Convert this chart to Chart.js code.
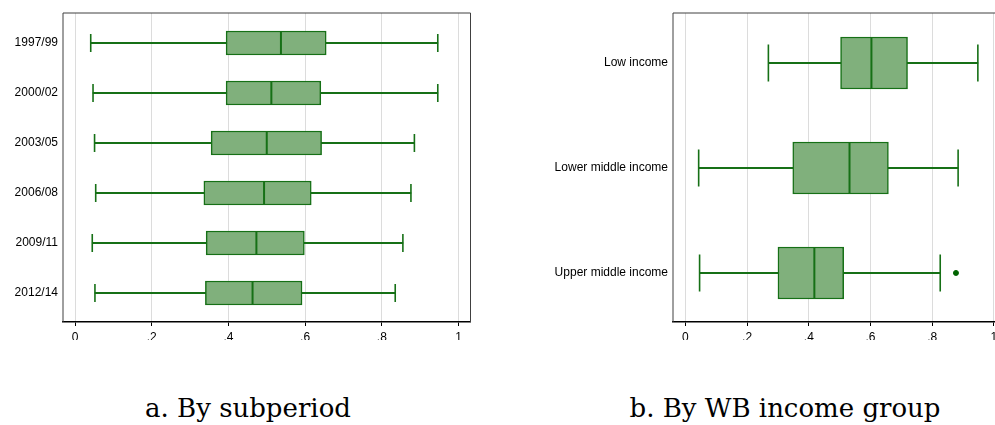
<!DOCTYPE html>
<html>
<head>
<meta charset="utf-8">
<script src="https://cdn.jsdelivr.net/npm/chart.js@4.4.0/dist/chart.umd.min.js"></script>
<style>
    html, body {
        margin: 0;
        padding: 0;
        background: #fff;
        width: 995px;
        height: 425px;
        overflow: hidden;
        position: relative;
    }
    .panel {
        position: absolute;
        top: 0;
        height: 345px;
    }
    .panel canvas {
        display: block;
    }
    .caption {
        position: absolute;
        top: 393px;
        font-family: "DejaVu Serif", "Liberation Serif", serif;
        font-size: 26px;
        line-height: 30px;
        color: #000;
        white-space: nowrap;
        transform: translateX(-50%);
    }
</style>
</head>
<body>
<div class="panel" style="left:0px; width:480px;"><canvas id="chartA" width="480" height="345" style="width:480px;height:345px;"></canvas></div>
<div class="panel" style="left:520px; width:490px;"><canvas id="chartB" width="490" height="345" style="width:490px;height:345px;"></canvas></div>
<div class="caption" style="left:248px;">a. By subperiod</div>
<div class="caption" style="left:785px;">b. By WB income group</div>

<script>
// panel a: by subperiod
const periods = ['1997/99', '2000/02', '2003/05', '2006/08', '2009/11', '2012/14'];
const periodMin = [0.041, 0.047, 0.051, 0.054, 0.045, 0.052];
const periodQ1 = [0.394, 0.394, 0.355, 0.336, 0.342, 0.340];
const periodMed = [0.537, 0.512, 0.500, 0.493, 0.473, 0.463];
const periodQ3 = [0.655, 0.641, 0.643, 0.616, 0.598, 0.592];
const periodMax = [0.946, 0.946, 0.885, 0.876, 0.855, 0.835];
const periodOutliers = [[], [], [], [], [], []];

// panel b: by WB income group
const groups = ['Low income', 'Lower middle income', 'Upper middle income'];
const groupMin = [0.269, 0.043, 0.046];
const groupQ1 = [0.503, 0.348, 0.300];
const groupMed = [0.603, 0.532, 0.418];
const groupQ3 = [0.720, 0.658, 0.513];
const groupMax = [0.948, 0.884, 0.826];
const groupOutliers = [[], [], [0.877]];

const xTickValues = [0, 0.2, 0.4, 0.6, 0.8, 1];
const xTickLabels = ['0', '.2', '.4', '.6', '.8', '1'];

const lineGreen = '#167016';
const boxFill = '#80b07c';

Chart.defaults.font.family = '"Liberation Sans", Arial, sans-serif';
Chart.defaults.font.size = 12;
Chart.defaults.color = '#000';

const framePlugin = {
    id: 'frame',
    afterDraw(chart) {
        const {ctx, chartArea} = chart;
        ctx.save();
        ctx.strokeStyle = '#404040';
        ctx.lineWidth = 1;
        ctx.beginPath();
        ctx.moveTo(chartArea.left, chartArea.bottom);
        ctx.lineTo(chartArea.left, chartArea.top);
        ctx.lineTo(chartArea.right, chartArea.top);
        ctx.lineTo(chartArea.right, chartArea.bottom);
        ctx.stroke();
        ctx.restore();
    }
};

function makeBoxChart(id, labels, mins, q1s, meds, q3s, maxs, outliers, cfg) {
    const whiskers = labels.map((l, i) => ({x: [mins[i], maxs[i]], y: i}));
    const boxes = labels.map((l, i) => ({x: [q1s[i], q3s[i]], y: i}));
    const medians = labels.map((l, i) => ({x: meds[i], y: i}));
    const caps = [];
    labels.forEach((l, i) => {
        caps.push({x: mins[i], y: i});
        caps.push({x: maxs[i], y: i});
    });
    const outs = [];
    outliers.forEach((list, i) => list.forEach(v => outs.push({x: v, y: i})));

    return new Chart(document.getElementById(id), {
        type: 'bar',
        data: {
            datasets: [
                {
                    type: 'scatter',
                    data: medians,
                    pointStyle: 'line',
                    rotation: 90,
                    radius: cfg.boxHeight / 2,
                    borderColor: lineGreen,
                    borderWidth: 2,
                    order: 0
                },
                {
                    type: 'bar',
                    data: boxes,
                    grouped: false,
                    barThickness: cfg.boxHeight,
                    backgroundColor: boxFill,
                    borderColor: lineGreen,
                    borderWidth: 1.5,
                    borderSkipped: false,
                    order: 1
                },
                {
                    type: 'scatter',
                    data: caps,
                    pointStyle: 'line',
                    rotation: 90,
                    radius: cfg.capHeight / 2,
                    borderColor: lineGreen,
                    borderWidth: 1.6,
                    order: 2
                },
                {
                    type: 'scatter',
                    data: outs,
                    pointStyle: 'circle',
                    radius: 2.5,
                    backgroundColor: '#006400',
                    borderColor: '#006400',
                    borderWidth: 1,
                    order: 2
                },
                {
                    type: 'bar',
                    data: whiskers,
                    grouped: false,
                    barThickness: 1.5,
                    backgroundColor: lineGreen,
                    borderWidth: 0,
                    order: 3
                }
            ]
        },
        options: {
            indexAxis: 'y',
            responsive: false,
            maintainAspectRatio: false,
            animation: false,
            events: [],
            layout: {
                autoPadding: false,
                padding: {top: 13, right: cfg.padRight, bottom: 5, left: 0}
            },
            plugins: {
                legend: {display: false},
                tooltip: {enabled: false}
            },
            scales: {
                x: {
                    type: 'linear',
                    min: cfg.xMin,
                    max: cfg.xMax,
                    offset: false,
                    afterBuildTicks: scale => {
                        scale.ticks = xTickValues.map(v => ({value: v}));
                    },
                    afterFit: scale => {
                        scale.height = 18;
                    },
                    ticks: {
                        padding: 4,
                        maxRotation: 0,
                        callback: (value) => {
                            const k = xTickValues.findIndex(t => Math.abs(t - value) < 1e-9);
                            return k >= 0 ? xTickLabels[k] : '';
                        }
                    },
                    grid: {
                        color: '#dcdcdc',
                        lineWidth: 1,
                        tickColor: '#000',
                        tickLength: 4,
                        drawTicks: true,
                        offset: false
                    },
                    border: {display: true, color: '#000', width: 1.5}
                },
                y: {
                    type: 'linear',
                    reverse: true,
                    offset: false,
                    min: cfg.yMin,
                    max: cfg.yMax,
                    afterBuildTicks: scale => {
                        scale.ticks = labels.map((l, i) => ({value: i}));
                    },
                    afterFit: scale => {
                        scale.width = cfg.yAxisWidth;
                    },
                    ticks: {
                        padding: 5,
                        autoSkip: false,
                        callback: (value) => labels[value] || ''
                    },
                    grid: {display: false, drawTicks: false, offset: false},
                    border: {display: false}
                }
            }
        },
        plugins: [framePlugin]
    });
}

makeBoxChart('chartA', periods, periodMin, periodQ1, periodMed, periodQ3, periodMax, periodOutliers, {
    xMin: -0.0313,
    xMax: 1.0313,
    yMin: -0.6,
    yMax: 5.58,
    boxHeight: 24,
    capHeight: 18,
    yAxisWidth: 63,
    padRight: 9.5
});

makeBoxChart('chartB', groups, groupMin, groupQ1, groupMed, groupQ3, groupMax, groupOutliers, {
    xMin: -0.0402,
    xMax: 1.0402,
    yMin: -0.476,
    yMax: 2.467,
    boxHeight: 52,
    capHeight: 37,
    yAxisWidth: 153,
    padRight: 3.7
});
</script>
</body>
</html>
